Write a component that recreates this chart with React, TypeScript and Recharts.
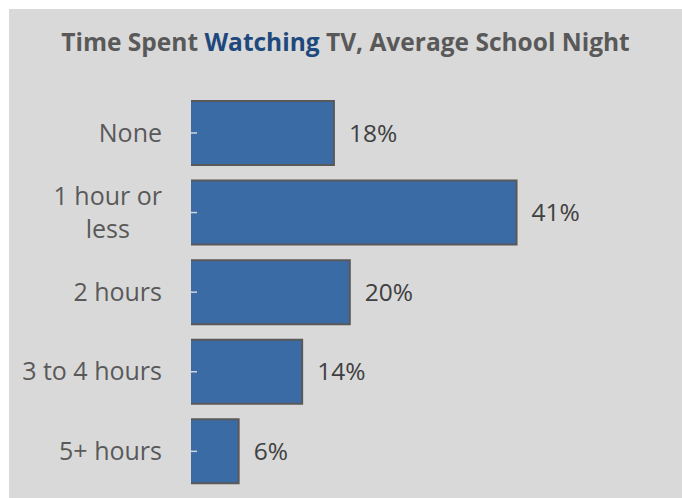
import { BarChart, Bar, XAxis, YAxis, LabelList } from 'recharts';

const categories = ['None', '1 hour or less', '2 hours', '3 to 4 hours', '5+ hours'];
const categoryLines = [['None'], ['1 hour or', 'less'], ['2 hours'], ['3 to 4 hours'], ['5+ hours']];
const shares = [18, 41, 20, 14, 6];
const valueTicks = [0, 10, 20, 30, 40, 50];

const data = categories.map((name, i) => ({ name, value: shares[i] }));

const FONT = '"Open Sans", sans-serif';
const LABEL_SIZE = 25;

function measure(text: string) {
    const ctx = document.createElement('canvas').getContext('2d');
    if (!ctx) return text.length * LABEL_SIZE * 0.5;
    ctx.font = `${LABEL_SIZE}px ${FONT}`;
    return ctx.measureText(text).width;
}

function CategoryTick(props: any) {
    const { x, y, payload } = props;
    const idx = categories.indexOf(payload.value);
    const lines = idx >= 0 ? categoryLines[idx] : [payload.value];
    if (lines.length === 1) {
        return (
            <text x={x} y={y} dy="0.35em" textAnchor="end" fill="#595959" fontSize={LABEL_SIZE} fontFamily={FONT}>
                {lines[0]}
            </text>
        );
    }
    // wrapped labels: lines centred on each other, block right-aligned
    const maxW = Math.max(...lines.map(measure));
    const cx = x - maxW / 2;
    const lh = 33;
    return (
        <g>
            {lines.map((l: string, i: number) => (
                <text key={i} x={cx} y={y + (i - (lines.length - 1) / 2) * lh} dy="0.35em" textAnchor="middle"
                    fill="#595959" fontSize={LABEL_SIZE} fontFamily={FONT}>
                    {l}
                </text>
            ))}
        </g>
    );
}

function OutlinedBar(props: any) {
    const { x, y, width, height } = props;
    return (
        <g>
            <rect x={x} y={y} width={width} height={height} fill="#3a6ba5" />
            <path d={`M${x},${y}H${x + width}V${y + height}H${x}`} fill="none" stroke="#595959" strokeWidth={2} />
            <line x1={x} x2={x + 6} y1={y + height / 2} y2={y + height / 2} stroke="#d0d6de" strokeWidth={1.5} />
        </g>
    );
}

export default function App() {
    return (
        <div style={{ position: 'fixed', left: 9, top: 9, width: 673, height: 489, background: '#d9d9d9' }}>
            <div style={{
                position: 'absolute', left: 0, top: 18, width: 673, textAlign: 'center',
                fontFamily: FONT, fontWeight: 700, fontSize: 24.5, lineHeight: '30px', color: '#595959',
            }}>
                Time Spent <span style={{ color: '#1f497d' }}>Watching</span> TV, Average School Night
            </div>
            <BarChart
                width={673}
                height={489}
                data={data}
                layout="vertical"
                barCategoryGap="10%"
                margin={{ top: 84, right: 94, bottom: 7, left: 0 }}
            >
                <XAxis type="number" domain={[0, 50]} ticks={valueTicks} hide />
                <YAxis
                    type="category"
                    dataKey="name"
                    width={182}
                    axisLine={false}
                    tickLine={false}
                    tickSize={0}
                    tickMargin={29}
                    interval={0}
                    tick={<CategoryTick />}
                />
                <Bar dataKey="value" shape={<OutlinedBar />} isAnimationActive={false}>
                    <LabelList
                        dataKey="value"
                        position="right"
                        offset={15}
                        formatter={(v: any) => `${v}%`}
                        fill="#404040"
                        fontSize={24.5}
                        fontFamily={FONT}
                    />
                </Bar>
            </BarChart>
        </div>
    );
}
